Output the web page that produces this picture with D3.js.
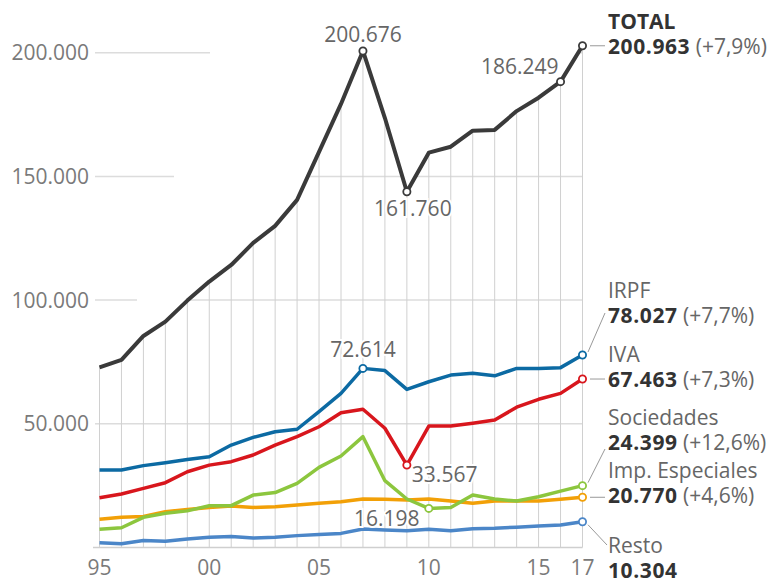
<!DOCTYPE html>
<html>
<head>
<meta charset="utf-8">
<script src="https://cdn.jsdelivr.net/npm/d3@7"></script>
<style>
body { margin: 0; background: #fff; }
text { font-family: "Open Sans", sans-serif; }
</style>
</head>
<body>
<script>
// Recaudación tributaria, millones de euros
var years = d3.range(1995, 2018);
var total      = [72800, 75800, 85500, 91300, 99800, 107500, 114200, 123100, 130000, 140500, 159900, 179300, 200700, 173600, 143800, 159600, 162000, 168500, 168800, 176400, 181800, 188300, 202800];
var irpf       = [31300, 31300, 33100, 34300, 35600, 36700, 41400, 44500, 46800, 47800, 54900, 62300, 72400, 71500, 63900, 67000, 69700, 70400, 69400, 72400, 72400, 72700, 77800];
var iva        = [20100, 21600, 23900, 26200, 30600, 33300, 34700, 37400, 41400, 44800, 48800, 54500, 55900, 48200, 33300, 49100, 49100, 50200, 51500, 56700, 59900, 62300, 68100];
var sociedades = [7400, 8000, 12200, 13800, 14800, 16900, 16900, 21200, 22200, 25900, 32400, 37000, 44800, 27000, 19600, 15800, 16200, 21200, 19600, 18800, 20500, 22800, 25000];
var especiales = [11400, 12200, 12500, 14500, 15400, 16200, 16800, 16200, 16500, 17200, 17900, 18500, 19600, 19500, 19200, 19600, 18800, 17900, 18800, 18800, 18800, 19500, 20300];
var resto      = [1900, 1500, 2800, 2500, 3400, 4100, 4400, 3800, 4100, 4800, 5300, 5700, 7500, 7100, 6800, 7400, 6800, 7600, 7800, 8200, 8700, 9100, 10400];

var yTicks = [0, 50000, 100000, 150000, 200000];
var xTicks = [1995, 2000, 2005, 2010, 2015, 2017];

var seriesNames  = ["TOTAL", "IRPF", "IVA", "Sociedades", "Imp. Especiales", "Resto"];
var lastValues   = ["200.963", "78.027", "67.463", "24.399", "20.770", "10.304"];
var lastChanges  = ["(+7,9%)", "(+7,7%)", "(+7,3%)", "(+12,6%)", "(+4,6%)", ""];

var width = 782, height = 579;

var svg = d3.select("body").append("svg")
	.attr("width", width)
	.attr("height", height);

var x = d3.scaleLinear().domain([1995, 2017]).range([99.5, 582.5]);
var y = d3.scaleLinear().domain([0, 200000]).range([547.5, 52.7]);

var es = d3.formatLocale({decimal: ",", thousands: ".", grouping: [3], currency: ["", "€"]});
var fmt = es.format(",");

var series = [
	{key: "total", values: total, color: "#3a3a3a", w: 4},
	{key: "irpf", values: irpf, color: "#0c6aa3", w: 3.5},
	{key: "iva", values: iva, color: "#d8161d", w: 3.5},
	{key: "soc", values: sociedades, color: "#8cc63e", w: 3.5},
	{key: "esp", values: especiales, color: "#f2a007", w: 3.5},
	{key: "resto", values: resto, color: "#4b86c8", w: 3.5}
];

// clip region: area under the total line
var area = d3.area()
	.x(function(d, i) { return x(years[i]); })
	.y0(y(0))
	.y1(function(d) { return y(d); });

svg.append("clipPath").attr("id", "under")
	.append("path").attr("d", area(total));

var grid = svg.append("g");

// short tick lines beside the labels
var tickEnds = [583, 100, 137, 174, 210];
grid.selectAll("line.tick").data(yTicks.slice(1))
	.enter().append("line")
	.attr("x1", 95)
	.attr("x2", function(d, i) { return tickEnds[i + 1]; })
	.attr("y1", function(d) { return y(d); })
	.attr("y2", function(d) { return y(d); })
	.attr("stroke", "#dcdcdc").attr("stroke-width", 1.5);

// horizontal lines under the total curve
grid.append("g").attr("clip-path", "url(#under)")
	.selectAll("line").data(yTicks.slice(1))
	.enter().append("line")
	.attr("x1", x(1995)).attr("x2", x(2017))
	.attr("y1", function(d) { return y(d); })
	.attr("y2", function(d) { return y(d); })
	.attr("stroke", "#dcdcdc").attr("stroke-width", 1.5);

// vertical lines up to the total
grid.selectAll("line.v").data(years)
	.enter().append("line")
	.attr("x1", function(d) { return x(d); })
	.attr("x2", function(d) { return x(d); })
	.attr("y1", y(0))
	.attr("y2", function(d, i) { return y(total[i]); })
	.attr("stroke", "#d0d0d0").attr("stroke-width", 1);

// baseline
grid.append("line")
	.attr("x1", 93).attr("x2", x(2017))
	.attr("y1", y(0)).attr("y2", y(0))
	.attr("stroke", "#cfcfcf").attr("stroke-width", 1.5);

// y labels
svg.append("g").selectAll("text").data(yTicks.slice(1))
	.enter().append("text")
	.attr("x", 89)
	.attr("y", function(d) { return y(d) + 7.5; })
	.attr("text-anchor", "end")
	.attr("font-size", 21)
	.attr("fill", "#7a7a7a")
	.text(function(d) { return fmt(d); });

// x labels
svg.append("g").selectAll("text").data(xTicks)
	.enter().append("text")
	.attr("x", function(d) { return x(d); })
	.attr("y", 575)
	.attr("text-anchor", "middle")
	.attr("font-size", 21)
	.attr("fill", "#7a7a7a")
	.text(function(d) { return String(d).slice(2); });

var line = d3.line()
	.x(function(d, i) { return x(years[i]); })
	.y(function(d) { return y(d); });

// draw lines, total last
var drawOrder = [5, 4, 3, 2, 1, 0];
drawOrder.forEach(function(k) {
	var s = series[k];
	svg.append("path")
		.attr("d", line(s.values))
		.attr("fill", "none")
		.attr("stroke", s.color)
		.attr("stroke-width", s.w)
		.attr("stroke-linejoin", "round");
});

// annotated points
var marks = [
	{s: 0, year: 2007, text: "200.676", anchor: "middle", dx: 0, dy: -9},
	{s: 0, year: 2009, text: "161.760", anchor: "middle", dx: 6, dy: 24},
	{s: 0, year: 2016, text: "186.249", anchor: "end", dx: -2, dy: -8},
	{s: 0, year: 2017},
	{s: 1, year: 2007, text: "72.614", anchor: "middle", dx: 0, dy: -11},
	{s: 1, year: 2017},
	{s: 2, year: 2009, text: "33.567", anchor: "start", dx: 5, dy: 17},
	{s: 2, year: 2017},
	{s: 3, year: 2010, text: "16.198", anchor: "middle", dx: -42, dy: 18},
	{s: 3, year: 2017},
	{s: 4, year: 2017},
	{s: 5, year: 2017}
];

marks.forEach(function(m) {
	var s = series[m.s];
	var px = x(m.year), py = y(s.values[m.year - 1995]);
	if (m.text) {
		svg.append("text")
			.attr("x", px + m.dx).attr("y", py + m.dy)
			.attr("text-anchor", m.anchor)
			.attr("font-size", 21)
			.attr("fill", "#666")
			.attr("stroke", "#fff").attr("stroke-width", 4)
			.attr("paint-order", "stroke")
			.text(m.text);
	}
	svg.append("circle")
		.attr("cx", px).attr("cy", py).attr("r", 3.6)
		.attr("fill", "#fff")
		.attr("stroke", s.color).attr("stroke-width", 1.8);
});

// right-hand labels
var labelY = [29, 298, 362, 425, 478, 553];   // baseline of name
var leaders = [
	[590, null, 605, 0],
	[588, null, 605, 313],
	[590, null, 605, 0],
	[588, null, 605, 449],
	[590, null, 605, 0],
	[588, null, 607, 545]
];

seriesNames.forEach(function(name, i) {
	var s = series[i];
	var py = y(s.values[22]);
	var l = leaders[i];
	svg.append("line")
		.attr("x1", l[0]).attr("y1", py + (l[3] ? (l[3] > py ? 3 : -3) : 0))
		.attr("x2", l[2]).attr("y2", l[3] || py)
		.attr("stroke", "#999").attr("stroke-width", 1);

	svg.append("text")
		.attr("x", 608).attr("y", labelY[i])
		.attr("font-size", 21)
		.attr("font-weight", i === 0 ? "bold" : "normal")
		.attr("fill", i === 0 ? "#333" : "#666")
		.text(name);

	var t = svg.append("text")
		.attr("x", 608).attr("y", labelY[i] + 25)
		.attr("font-size", 21);
	t.append("tspan")
		.attr("font-weight", "bold")
		.attr("fill", "#333")
		.attr("letter-spacing", 0.6)
		.text(lastValues[i]);
	if (lastChanges[i]) {
		t.append("tspan")
			.attr("fill", "#666")
			.text(" " + lastChanges[i]);
	}
});
</script>
</body>
</html>
